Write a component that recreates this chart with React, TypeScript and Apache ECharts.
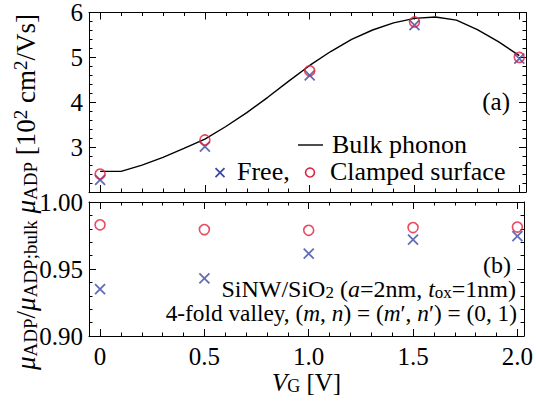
import React, { useEffect, useRef } from 'react';
import * as echarts from 'echarts';

// ---- data ----
const gateVoltages = [0, 0.5, 1.0, 1.5, 2.0];
const freeMobility = [2.27, 3.01, 4.6, 5.72, 4.97];
const clampedMobility = [2.4, 3.16, 4.7, 5.79, 5.0];
const bulkVoltages = [0, 0.1, 0.2, 0.3, 0.4, 0.5, 0.6, 0.7, 0.8, 0.9, 1.0, 1.1, 1.2, 1.3, 1.4, 1.5, 1.6, 1.7, 1.8, 1.9, 2.0];
const bulkMobility = [2.46, 2.46, 2.6, 2.77, 2.97, 3.18, 3.46, 3.77, 4.11, 4.47, 4.82, 5.13, 5.4, 5.61, 5.77, 5.87, 5.9, 5.83, 5.62, 5.35, 5.04];
const freeRatio = [0.935, 0.943, 0.9615, 0.972, 0.9746];
const clampedRatio = [0.983, 0.9794, 0.9789, 0.9809, 0.9813];

const xTickValues = [0, 0.5, 1.0, 1.5, 2.0];
const xTickLabels = ['0', '0.5', '1.0', '1.5', '2.0'];
const topYTickValues = [3, 4, 5, 6];
const topYTickLabels = ['3', '4', '5', '6'];
const bottomYTickValues = [0.9, 0.95, 1.0];
const bottomYTickLabels = ['0.90', '0.95', '1.00'];

const FONT = "'Liberation Serif', 'DejaVu Serif', serif";
const BLUE = '#3a48a8';
const RED = '#e0203c';

const labelFrom = (vals: number[], labels: string[]) => (v: number) => {
  const i = vals.findIndex((t) => Math.abs(t - v) < 1e-6);
  return i >= 0 ? labels[i] : '';
};

const lineStyle = { color: '#000', width: 1 };

function makeX(gridIndex: number, position: string, showLabels: boolean) {
  return {
    type: 'value',
    gridIndex,
    position,
    min: -0.053,
    max: 2.032,
    splitNumber: 4,
    axisLine: { show: true, onZero: false, lineStyle },
    axisTick: { show: true, inside: true, length: 7, lineStyle },
    minorTick: { show: true, splitNumber: 5, length: 3.5, lineStyle },
    splitLine: { show: false },
    axisLabel: {
      show: showLabels,
      margin: 8,
      color: '#000',
      fontSize: 25,
      fontFamily: FONT,
      formatter: labelFrom(xTickValues, xTickLabels),
    },
  } as any;
}

function makeY(gridIndex: number, position: string, showLabels: boolean, min: number, max: number, interval: number, vals: number[], labels: string[]) {
  return {
    type: 'value',
    gridIndex,
    position,
    min,
    max,
    interval,
    axisLine: { show: true, onZero: false, lineStyle },
    axisTick: { show: true, inside: true, length: 7, lineStyle },
    minorTick: { show: true, splitNumber: 5, length: 3.5, lineStyle },
    splitLine: { show: false },
    axisLabel: {
      show: showLabels,
      margin: 6,
      color: '#000',
      fontSize: 25,
      fontFamily: FONT,
      formatter: labelFrom(vals, labels),
    },
  } as any;
}

const CROSS = 'path://M0,0L10,10M10,0L0,10';

const baseText = { fill: '#000', fontSize: 25, fontFamily: FONT };
const mk = (fs: number, subPad: number, supPad: number) => ({
  i: { fontStyle: 'italic', fontSize: fs, fontFamily: FONT, fill: '#000', color: '#000' },
  s: { fontSize: Math.round(fs * 0.7), fontFamily: FONT, padding: [subPad, 0, 0, 0], fill: '#000', color: '#000' },
  p: { fontSize: Math.round(fs * 0.7), fontFamily: FONT, padding: [0, 0, supPad, 0], fill: '#000', color: '#000' },
});
const richTitle = mk(27, 9, 11);
const richName = mk(25, 8, 10);
const rich24 = mk(24, 6, 8);
const rich23 = mk(23.3, 6, 8);

export default function App() {
  const ref = useRef<HTMLDivElement>(null);
  useEffect(() => {
    if (!ref.current) return;
    const chart = echarts.init(ref.current, null, { renderer: 'svg' });
    const top = gateVoltages.map((x, i) => [x, freeMobility[i]]);
    const topC = gateVoltages.map((x, i) => [x, clampedMobility[i]]);
    const bulk = bulkVoltages.map((x, i) => [x, bulkMobility[i]]);
    const botF = gateVoltages.map((x, i) => [x, freeRatio[i]]);
    const botC = gateVoltages.map((x, i) => [x, clampedRatio[i]]);

    const xName = makeX(1, 'bottom', true);
    xName.name = '{i|V}{s|G} [V]';
    xName.nameLocation = 'middle';
    xName.nameGap = 32;
    xName.nameTextStyle = { color: '#000', fontSize: 25, fontFamily: FONT, rich: richName };

    chart.setOption({
      animation: false,
      backgroundColor: '#fff',
      grid: [
        { left: 89, top: 11, width: 437, height: 181 },
        { left: 89, top: 202, width: 437, height: 134 },
      ],
      xAxis: [
        makeX(0, 'bottom', false),
        makeX(0, 'top', false),
        xName,
        makeX(1, 'top', false),
      ],
      yAxis: [
        makeY(0, 'left', true, 2, 6, 1, topYTickValues, topYTickLabels),
        makeY(0, 'right', false, 2, 6, 1, topYTickValues, topYTickLabels),
        makeY(1, 'left', true, 0.9, 1.0, 0.05, bottomYTickValues, bottomYTickLabels),
        makeY(1, 'right', false, 0.9, 1.0, 0.05, bottomYTickValues, bottomYTickLabels),
      ],
      series: [
        {
          name: 'Bulk phonon', type: 'line', xAxisIndex: 0, yAxisIndex: 0, data: bulk,
          showSymbol: false, symbol: 'none', lineStyle: { color: '#000', width: 1.4 }, z: 2,
        },
        {
          name: 'Free', type: 'scatter', xAxisIndex: 0, yAxisIndex: 0, data: top,
          symbol: CROSS, symbolSize: 10, itemStyle: { color: BLUE, borderColor: BLUE, borderWidth: 1.8 }, z: 3,
        },
        {
          name: 'Clamped surface', type: 'scatter', xAxisIndex: 0, yAxisIndex: 0, data: topC,
          symbol: 'circle', symbolSize: 10, itemStyle: { color: 'rgba(0,0,0,0)', borderColor: RED, borderWidth: 1.6 }, z: 4,
        },
        {
          name: 'Free ratio', type: 'scatter', xAxisIndex: 2, yAxisIndex: 2, data: botF,
          symbol: CROSS, symbolSize: 10, itemStyle: { color: BLUE, borderColor: BLUE, borderWidth: 1.8 }, z: 3,
        },
        {
          name: 'Clamped ratio', type: 'scatter', xAxisIndex: 2, yAxisIndex: 2, data: botC,
          symbol: 'circle', symbolSize: 10, itemStyle: { color: 'rgba(0,0,0,0)', borderColor: RED, borderWidth: 1.6 }, z: 4,
        },
      ],
      graphic: [
        {
          type: 'text', x: 26, y: 192, rotation: Math.PI / 2,
          style: {
            ...baseText,
            fontSize: 27,
            text: '{i|μ}{s|ADP}/{i|μ}{s|ADP;bulk} {i|μ}{s|ADP} [10{p|2} cm{p|2}/Vs]',
            align: 'center', verticalAlign: 'middle', rich: richTitle,
          },
        },
        { type: 'line', shape: { x1: 298, y1: 145, x2: 323, y2: 145 }, style: { stroke: '#000', lineWidth: 1.4 } },
        { type: 'text', x: 332, y: 144, style: { ...baseText, fontSize: 26, text: 'Bulk phonon', align: 'left', verticalAlign: 'middle' } },
        { type: 'line', shape: { x1: 215.5, y1: 168.2, x2: 224.5, y2: 177.2 }, style: { stroke: BLUE, lineWidth: 1.8 } },
        { type: 'line', shape: { x1: 224.5, y1: 168.2, x2: 215.5, y2: 177.2 }, style: { stroke: BLUE, lineWidth: 1.8 } },
        { type: 'text', x: 237, y: 171, style: { ...baseText, fontSize: 26, text: 'Free,', align: 'left', verticalAlign: 'middle' } },
        { type: 'circle', shape: { cx: 310, cy: 172.5, r: 4.5 }, style: { fill: 'none', stroke: RED, lineWidth: 1.6 } },
        { type: 'text', x: 330, y: 171, style: { ...baseText, fontSize: 26, text: 'Clamped surface', align: 'left', verticalAlign: 'middle' } },
        { type: 'text', x: 510, y: 101, style: { ...baseText, text: '(a)', align: 'right', verticalAlign: 'middle' } },
        { type: 'text', x: 511, y: 265, style: { ...baseText, fontSize: 24, text: '(b)', align: 'right', verticalAlign: 'middle' } },
        {
          type: 'text', x: 516, y: 289,
          style: { ...baseText, fontSize: 24, text: 'SiNW/SiO{s|2} ({i|a}=2nm, {i|t}{s|ox}=1nm)', align: 'right', verticalAlign: 'middle', rich: rich24 },
        },
        {
          type: 'text', x: 517, y: 313,
          style: { ...baseText, fontSize: 23.3, text: '4-fold valley, ({i|m}, {i|n}) = ({i|m}′, {i|n}′) = (0, 1)', align: 'right', verticalAlign: 'middle', rich: rich23 },
        },
      ],
    });
    return () => chart.dispose();
  }, []);
  return <div ref={ref} style={{ position: 'fixed', left: 0, top: 0, width: 536, height: 401 }} />;
}
